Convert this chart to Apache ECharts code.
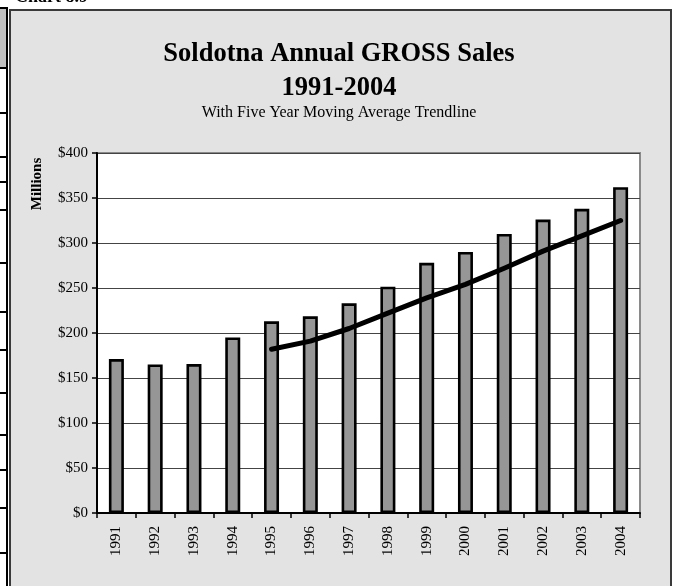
<!DOCTYPE html>
<html>
<head>
<meta charset="utf-8">
<script src="https://cdn.jsdelivr.net/npm/echarts@6/dist/echarts.min.js"></script>
<style>
html,body{margin:0;padding:0;background:#fff;}
#c{width:678px;height:586px;}
</style>
</head>
<body>
<div id="c"></div>
<script>
var years = ['1991','1992','1993','1994','1995','1996','1997','1998','1999','2000','2001','2002','2003','2004'];
var sales = [171, 165, 165.5, 195, 213, 218.5, 233, 251.5, 278, 290, 310, 326, 338, 362];
var movingAvg = [null, null, null, null, 182, 191, 205, 222, 239, 254, 272, 291, 308, 325];
var yMin = 0, yMax = 400, yStep = 50;
var stripLines = [68, 113, 157, 182, 210, 263, 312, 350, 393, 435, 470, 508, 553];

var serif = '"Liberation Serif", "Times New Roman", serif';
var chart = echarts.init(document.getElementById('c'));

var graphics = [
  {type:'rect', z:-10, shape:{x:10, y:10, width:661, height:590}, style:{fill:'#e3e3e3', stroke:'#3a3a3a', lineWidth:2}},
  {type:'rect', z:-10, shape:{x:0, y:9, width:6, height:58}, style:{fill:'#c0c0c0'}},
  {type:'line', z:-9, shape:{x1:0, y1:8, x2:8, y2:8}, style:{stroke:'#000', lineWidth:2}},
  {type:'line', z:-9, shape:{x1:7, y1:8, x2:7, y2:586}, style:{stroke:'#000', lineWidth:2}},
  {type:'text', z:-9, left:15, top:-12, style:{text:'Chart 8.9', font:'bold 18px ' + serif, fill:'#000'}},
  {type:'text', z:5, x:37, y:184, rotation:Math.PI/2, style:{text:'Millions', font:'bold 15px ' + serif, fill:'#000', textAlign:'center', textVerticalAlign:'middle'}}
];
stripLines.forEach(function(y){
  graphics.push({type:'line', z:-9, shape:{x1:0, y1:y, x2:7, y2:y}, style:{stroke:'#000', lineWidth:2}});
});

chart.setOption({
  animation:false,
  backgroundColor:'#ffffff',
  graphic: graphics,
  title:[
    {text:'Soldotna Annual GROSS Sales\n1991-2004', left:'center', top:37, padding:0,
     textStyle:{fontFamily:serif, fontSize:26.5, fontWeight:'bold', color:'#000', lineHeight:34}},
    {text:'With Five Year Moving Average Trendline', left:'center', top:103, padding:0,
     textStyle:{fontFamily:serif, fontSize:16, fontWeight:'normal', color:'#000', lineHeight:20}}
  ],
  grid:{left:97, right:38, top:153, bottom:73, show:true, backgroundColor:'#ffffff', borderColor:'#8a8a8a', borderWidth:2},
  xAxis:{
    type:'category', data:years, boundaryGap:true,
    axisLine:{show:true, lineStyle:{color:'#000', width:2}},
    axisTick:{show:true, alignWithLabel:false, length:5, lineStyle:{color:'#000', width:1.5}},
    axisLabel:{rotate:90, margin:13, fontFamily:serif, fontSize:15, color:'#000'},
    splitLine:{show:false}
  },
  yAxis:{
    type:'value', min:yMin, max:yMax, interval:yStep,
    axisLine:{show:true, lineStyle:{color:'#000', width:2}},
    axisTick:{show:true, length:5, lineStyle:{color:'#000', width:1.5}},
    axisLabel:{margin:9, fontFamily:serif, fontSize:15, color:'#000', formatter:'${value}'},
    splitLine:{show:true, lineStyle:{color:'#444444', width:1.2}}
  },
  series:[
    {type:'bar', data:sales, barWidth:15,
     itemStyle:{color:'#969696', borderColor:'#000', borderWidth:2.6}},
    {type:'line', data:movingAvg, showSymbol:false, symbol:'none', connectNulls:false, z:5,
     lineStyle:{color:'#000', width:5, cap:'round', join:'round'}}
  ]
});
</script>
</body>
</html>
